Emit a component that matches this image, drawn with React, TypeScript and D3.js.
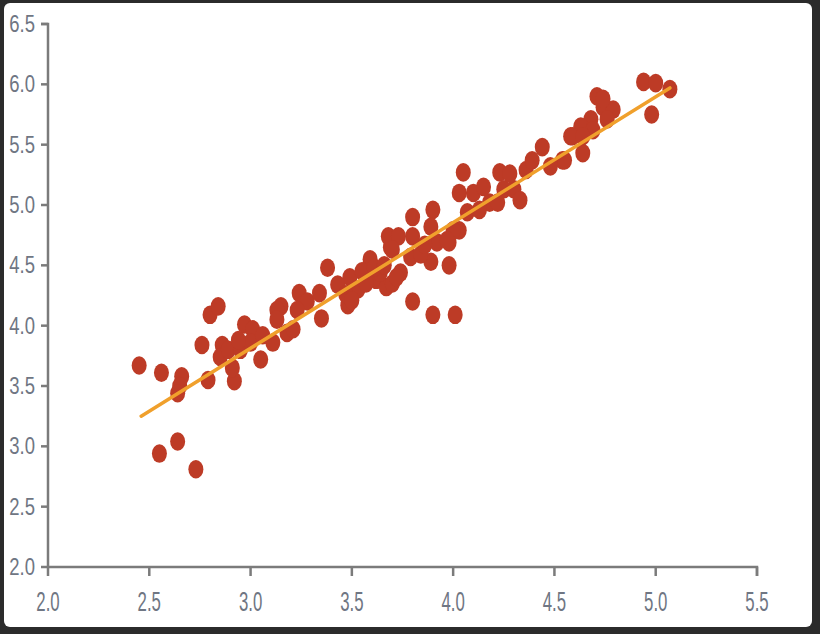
import React from "react";
import * as d3 from "d3";

const xTicks = [2.0, 2.5, 3.0, 3.5, 4.0, 4.5, 5.0, 5.5];
const yTicks = [2.0, 2.5, 3.0, 3.5, 4.0, 4.5, 5.0, 5.5, 6.0, 6.5];

const xs = [
  2.45, 2.56, 2.55, 2.64, 2.73, 2.66, 2.65, 2.64, 2.79, 2.76,
  2.80, 2.84, 2.86, 2.85, 2.89, 2.92, 2.91, 2.97, 2.95, 3.01,
  3.00, 3.05, 3.11, 3.15, 3.18, 3.13, 3.13, 3.21, 3.24, 3.28,
  3.34, 3.35, 3.38, 3.48, 3.49, 3.53, 3.59, 3.62, 3.67, 3.69,
  3.74, 3.80, 3.90, 4.01, 3.98, 3.80, 3.90, 3.68, 3.73, 3.70,
  3.80, 3.89, 3.92, 3.89, 3.79, 3.59, 3.64, 3.70, 3.57, 4.03,
  4.03, 3.98, 4.05, 4.10, 4.15, 4.18, 4.23, 4.25, 4.30, 4.33,
  4.36, 4.39, 4.44, 4.54, 4.58, 4.00, 4.07, 4.13, 4.22, 3.97,
  4.94, 5.00, 5.07, 4.98, 4.71, 4.74, 4.79, 4.68, 4.76, 4.63,
  4.69, 4.59, 4.64, 4.64, 4.55, 4.48, 2.94, 3.23, 3.43, 3.47,
  3.55, 3.50, 3.84, 3.86, 3.61, 3.66, 4.28, 3.72, 3.06, 4.74
];
const ys = [
  3.67, 3.61, 2.94, 3.04, 2.81, 3.58, 3.50, 3.44, 3.55, 3.84,
  4.09, 4.16, 3.84, 3.74, 3.80, 3.54, 3.65, 4.01, 3.80, 3.97,
  3.86, 3.72, 3.86, 4.16, 3.94, 4.13, 4.05, 3.97, 4.27, 4.20,
  4.27, 4.06, 4.48, 4.17, 4.40, 4.30, 4.55, 4.38, 4.32, 4.65,
  4.44, 4.20, 4.09, 4.09, 4.50, 4.90, 4.96, 4.74, 4.74, 4.63,
  4.74, 4.82, 4.69, 4.53, 4.57, 4.52, 4.44, 4.35, 4.35, 5.10,
  4.79, 4.69, 5.27, 5.10, 5.15, 5.02, 5.27, 5.13, 5.13, 5.04,
  5.29, 5.37, 5.48, 5.37, 5.57, 4.79, 4.94, 4.96, 5.02, 4.71,
  6.02, 6.01, 5.96, 5.75, 5.90, 5.81, 5.79, 5.71, 5.71, 5.65,
  5.62, 5.57, 5.57, 5.43, 5.37, 5.32, 3.88, 4.13, 4.34, 4.26,
  4.45, 4.21, 4.59, 4.67, 4.48, 4.50, 5.26, 4.40, 3.92, 5.88
];

const trendX = [2.46, 5.07];
const trendY = [3.25, 5.97];

const W = 820;
const H = 634;
const left = 48;
const right = 757;
const top = 24;
const bottom = 567;

export default function App() {
  const x = d3.scaleLinear().domain([2.0, 5.5]).range([left, right]);
  const y = d3.scaleLinear().domain([2.0, 6.5]).range([bottom, top]);
  const axisColor = "#7b7b7b";
  const textColor = "#6f7683";
  const font = "'Liberation Sans', Arial, sans-serif";
  const line = d3
    .line<number>()
    .x((_, i) => x(trendX[i]))
    .y((d) => y(d));

  return (
    <svg
      width={W}
      height={H}
      style={{ position: "absolute", left: 0, top: 0, display: "block" }}
    >
      <rect x={0} y={0} width={W} height={H} fill="#2b2b2b" />
      <rect x={4} y={3} width={808} height={624} rx={6} fill="#ffffff" />

      {/* y axis */}
      <path
        d={`M${left - 7},${y(6.5)}H${left}V${y(2.0)}`}
        fill="none"
        stroke={axisColor}
        strokeWidth={2.5}
      />
      {yTicks.map((t) => (
        <g key={"y" + t}>
          <line x1={left - 7} x2={left} y1={y(t)} y2={y(t)} stroke={axisColor} strokeWidth={2.5} />
          <text
            transform={`translate(35,${y(t) + 8}) scale(0.88,1.1)`}
            textAnchor="end"
            fontFamily={font}
            fontSize={21}
            fill={textColor}
          >
            {t.toFixed(1)}
          </text>
        </g>
      ))}

      {/* x axis */}
      <path
        d={`M${x(2.0)},${bottom}H${x(5.5)}V${bottom + 9}`}
        fill="none"
        stroke={axisColor}
        strokeWidth={2.5}
      />
      {xTicks.map((t) => (
        <g key={"x" + t}>
          <line x1={x(t)} x2={x(t)} y1={bottom} y2={bottom + 9} stroke={axisColor} strokeWidth={2.5} />
          <text
            transform={`translate(${x(t)},${611}) scale(0.8,1.3)`}
            textAnchor="middle"
            fontFamily={font}
            fontSize={21}
            fill={textColor}
          >
            {t.toFixed(1)}
          </text>
        </g>
      ))}

      {/* points */}
      {xs.map((v, i) => (
        <ellipse key={"p" + i} cx={x(v)} cy={y(ys[i])} rx={7.5} ry={9.3} fill="#bd3b26" />
      ))}

      {/* trend line */}
      <path d={line(trendY) || ""} fill="none" stroke="#f0a02c" strokeWidth={3.5} strokeLinecap="round" />
    </svg>
  );
}
